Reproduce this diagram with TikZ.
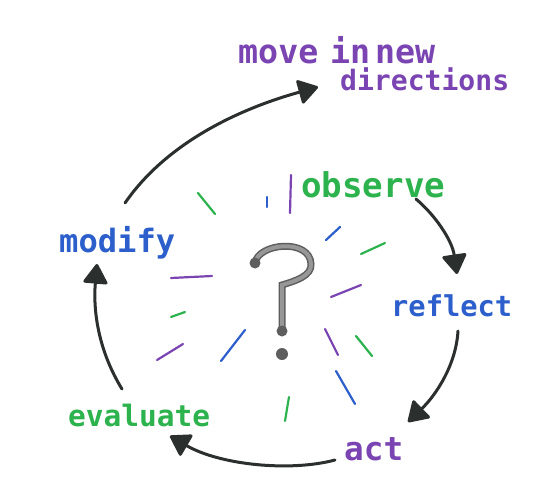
\documentclass[tikz,border=0pt]{standalone}
\usepackage{fontspec}
\usepackage{graphicx}
\setmonofont{DejaVu Sans Mono}
\usetikzlibrary{arrows.meta}
\definecolor{mpurple}{HTML}{7A44B2}
\definecolor{mgreen}{HTML}{2DB34E}
\definecolor{mblue}{HTML}{2C5FCB}
\definecolor{ink}{HTML}{2B2F2D}
\definecolor{qdark}{HTML}{5E5E5E}
\definecolor{qlight}{HTML}{979797}
\newcommand\fitw[2]{\resizebox{#1pt}{!}{\fontsize{30}{30}\selectfont #2}}
\tikzset{
  lbl/.style={anchor=base west, inner sep=0pt, font=\ttfamily\bfseries},
  flow/.style={line width=3pt, draw=ink, line cap=round,
    -{Triangle[length=21pt,width=26pt,round]}},
  ray/.style={line width=2.2pt, line cap=round},
}
\begin{document}
\begin{tikzpicture}[x=1pt,y=-1pt]
\useasboundingbox[fill=white] (0,0) rectangle (547,499);

% labels
\node[lbl, text=mpurple] (move) at (238,63) {\fitw{197}{move\hspace{-0.25em} in\hspace{-0.45em} new}};
\node[lbl, text=mpurple] (dirs) at (340,90) {\fitw{169}{directions}};
\node[lbl, text=mgreen] (observe) at (301,197) {\fitw{144}{observe}};
\node[lbl, text=mblue] (reflect) at (391,316) {\fitw{121}{reflect}};
\node[lbl, text=mpurple] (act) at (344,460) {\fitw{59}{act}};
\node[lbl, text=mgreen] (evaluate) at (68,426) {\fitw{142}{evaluate}};
\node[lbl, text=mblue] (modify) at (59,252) {\fitw{116}{modify}};

% connector ends
\coordinate (m0) at (125,203);
\coordinate (m1) at (318,87);
\coordinate (o0) at (416,199);
\coordinate (o1) at (457,274);
\coordinate (r0) at (458,331);
\coordinate (r1) at (408,422);
\coordinate (a0) at (335,460);
\coordinate (a1) at (170,436);
\coordinate (e0) at (122,389);
\coordinate (e1) at (97,264);

\draw[flow] (m0) .. controls (165,145) and (235,110) .. (m1);
\draw[flow] (o0) .. controls (435,215) and (452,240) .. (o1);
\draw[flow] (r0) .. controls (456,365) and (436,395) .. (r1);
\draw[flow] (a0) .. controls (290,472) and (220,465) .. (a1);
\draw[flow] (e0) .. controls (98,350) and (93,310) .. (e1);

% rays
\draw[ray, mgreen] (198,193) -- (215,214);
\draw[ray, mblue] (267,197) -- (267,207);
\draw[ray, mpurple] (291,175) -- (290,213);
\draw[ray, mblue] (340,227) -- (326,240);
\draw[ray, mgreen] (361,254) -- (385,243);
\draw[ray, mpurple] (171,278) -- (212,276);
\draw[ray, mpurple] (331,297) -- (361,285);
\draw[ray, mgreen] (171,317) -- (185,312);
\draw[ray, mpurple] (157,360) -- (183,344);
\draw[ray, mblue] (221,361) -- (245,330);
\draw[ray, mpurple] (325,329) -- (338,355);
\draw[ray, mgreen] (356,336) -- (372,356);
\draw[ray, mblue] (336,371) -- (355,404);
\draw[ray, mgreen] (289,397) -- (285,421);

% question mark
\def\qpath{(255,263) .. controls (258,243) and (310,238) .. (311,264) .. controls (312,276) and (295,281) .. (282,285) -- (282,331)}
\draw[qdark, line width=7pt, line cap=round] \qpath;
\draw[qlight, line width=4pt, line cap=round] \qpath;
\fill[qdark] (255,263) circle (5.5);
\fill[qdark] (282,331) circle (5.5);
\fill[qdark] (282,354) circle (6);
\end{tikzpicture}
\end{document}
